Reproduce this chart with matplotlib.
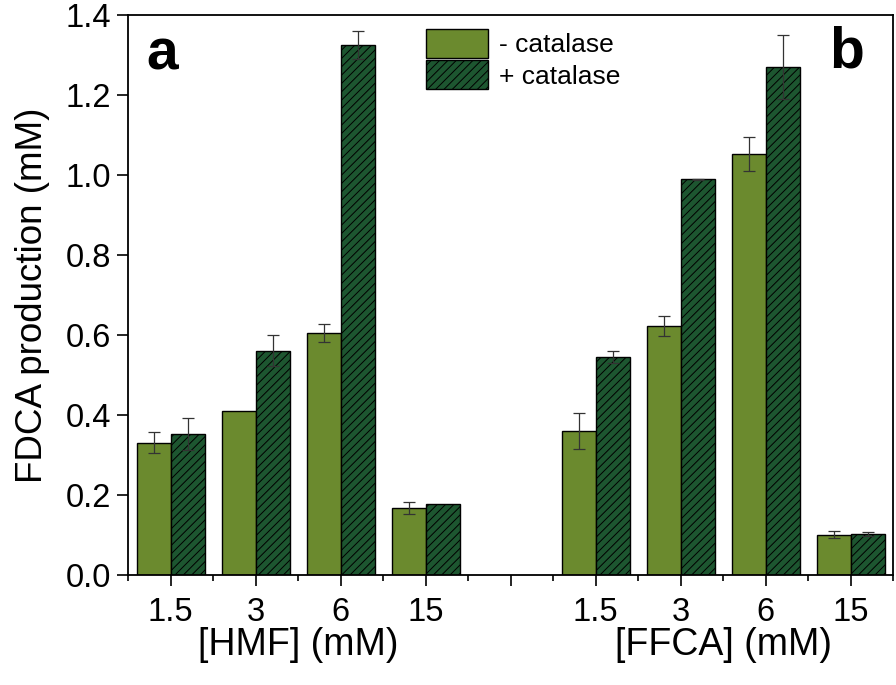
import matplotlib
matplotlib.use("Agg")
import matplotlib.pyplot as plt
import matplotlib.transforms as mtrans
import numpy as np

# ---- data ----
hmf_labels = ["1.5", "3", "6", "15"]
ffca_labels = ["1.5", "3", "6", "15"]
hmf_minus = [0.331, 0.411, 0.605, 0.167]
hmf_minus_err = [0.026, 0.0, 0.023, 0.015]
hmf_plus = [0.353, 0.561, 1.325, 0.178]
hmf_plus_err = [0.040, 0.038, 0.036, 0.0]
ffca_minus = [0.360, 0.622, 1.052, 0.101]
ffca_minus_err = [0.044, 0.025, 0.043, 0.008]
ffca_plus = [0.545, 0.989, 1.270, 0.103]
ffca_plus_err = [0.015, 0.002, 0.080, 0.005]
series_labels = ["- catalase", "+ catalase"]
y_ticks = [0.0, 0.2, 0.4, 0.6, 0.8, 1.0, 1.2, 1.4]

plt.rcParams['font.family'] = ['Liberation Sans', 'DejaVu Sans']
plt.rcParams['hatch.linewidth'] = 0.7

light = "#6b8a2e"
dark = "#1d5630"

fig = plt.figure(figsize=(8.96, 6.85), dpi=100)
ax = fig.add_axes([128/896, 1-575/685, (893-128)/896, (575-15)/685])

pos_h = np.arange(4)
pos_f = np.arange(4) + 5
w = 0.4
minus_vals = hmf_minus + ffca_minus
minus_err = hmf_minus_err + ffca_minus_err
plus_vals = hmf_plus + ffca_plus
plus_err = hmf_plus_err + ffca_plus_err
pos = np.concatenate([pos_h, pos_f])

ekw = dict(ecolor="#333333", elinewidth=0.9, capsize=4.5, capthick=0.9)
ax.bar(pos - w/2, minus_vals, width=w, color=light, edgecolor="black",
       linewidth=1.0, label=series_labels[0])
ax.bar(pos + w/2, plus_vals, width=w, color=dark, edgecolor="black",
       linewidth=1.0, hatch="////", label=series_labels[1])
for p, v, e in zip(pos - w/2, minus_vals, minus_err):
    if e > 0:
        ax.errorbar(p, v, yerr=e, fmt="none", **ekw)
for p, v, e in zip(pos + w/2, plus_vals, plus_err):
    if e > 0:
        ax.errorbar(p, v, yerr=e, fmt="none", **ekw)

ax.set_xlim(-0.5, 8.5)
ax.set_ylim(0, 1.4)
ax.set_yticks(y_ticks)
ax.set_yticklabels([f"{t:.1f}" for t in y_ticks])
ax.set_xticks(np.arange(9))
ax.set_xticklabels(hmf_labels + [""] + ffca_labels)
ax.set_xticks(np.arange(-0.5, 9.0, 1.0), minor=True)

ax.tick_params(axis="both", which="major", direction="out", labelsize=23.5,
               width=1.2, length=8)
ax.tick_params(axis="x", which="major", pad=8)
ax.tick_params(axis="y", which="major", pad=4)
ax.tick_params(axis="x", which="minor", direction="out", length=4, width=1.2)
for s in ax.spines.values():
    s.set_linewidth(1.3)

ax.set_ylabel("FDCA production (mM)", fontsize=26.5, labelpad=11)

trans = mtrans.blended_transform_factory(ax.transData, fig.transFigure)
ax.text(1.5, 1-645/685, "[HMF] (mM)", transform=trans, fontsize=27, ha="center", va="center")
ax.text(6.5, 1-645/685, "[FFCA] (mM)", transform=trans, fontsize=27, ha="center", va="center")

fig.text(162/896, 1-55/685, "a", fontsize=41, fontweight="bold", ha="center", va="center")
fig.text(847/896, 1-52/685, "b", fontsize=41, fontweight="bold", ha="center", va="center")

ax.legend(loc="upper left", bbox_to_anchor=(426/896, 1-29/685),
          bbox_transform=fig.transFigure, frameon=False, fontsize=19,
          handlelength=2.35, handleheight=1.3, handletextpad=0.4,
          labelspacing=0.1, borderpad=0, borderaxespad=0)

fig.savefig("out.png", dpi=100)
